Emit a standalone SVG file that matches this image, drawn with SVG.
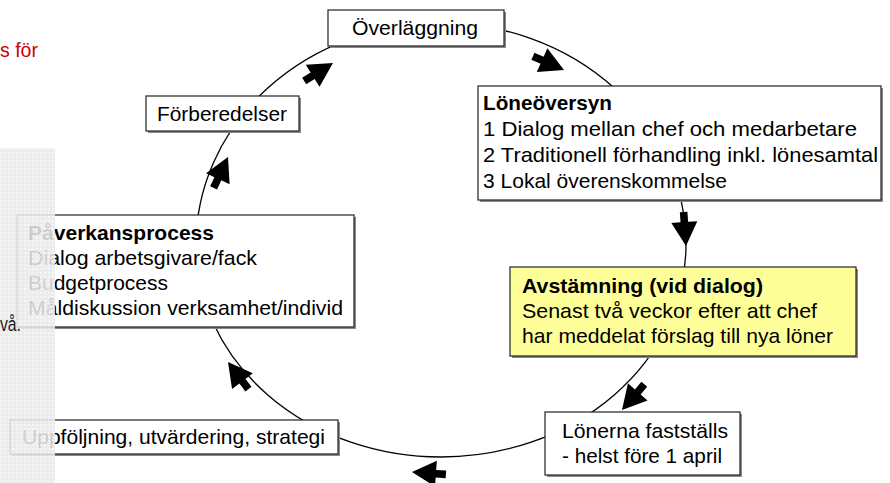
<svg xmlns="http://www.w3.org/2000/svg" width="890" height="483" viewBox="0 0 890 483">
<defs>
<style>
.box{fill:#ffffff;stroke:#222222;stroke-width:1.2}
.shd{fill:#8a8a8a}
.t{font-family:"Liberation Sans",Arial,sans-serif;font-size:21px;fill:#000}
.b{font-weight:bold}
.arc{fill:none;stroke:#000;stroke-width:1.3}
.arw{fill:#000}
</style>
<path id="arw" d="M0,0 L-24,-13 L-24,-3.8 L-34,-3.8 L-34,3.8 L-24,3.8 L-24,13 Z"/>
<pattern id="chk" width="4" height="4" patternUnits="userSpaceOnUse">
<rect width="4" height="4" fill="#e9e9e9"/>
<rect width="2" height="2" fill="#f3f3f3"/>
</pattern>
</defs>
<rect width="890" height="483" fill="#ffffff"/>
<text class="t" x="0" y="57" textLength="38" lengthAdjust="spacingAndGlyphs" style="fill:#cc0000;font-size:20px">s för</text>
<g id="connectors">
<path class="arc" d="M196,245 A245,222 0 0 1 686,245 A245,212 0 0 1 196,245 Z"/>
<use href="#arw" class="arw" transform="translate(333,63) rotate(-32)"/>
<use href="#arw" class="arw" transform="translate(564,70) rotate(24)"/>
<use href="#arw" class="arw" transform="translate(686,246) rotate(86)"/>
<use href="#arw" class="arw" transform="translate(622,410) rotate(131)"/>
<use href="#arw" class="arw" transform="translate(412,472) rotate(184)"/>
<use href="#arw" class="arw" transform="translate(228,362) rotate(233)"/>
<use href="#arw" class="arw" transform="translate(228,157) rotate(-65)"/>
</g>
<g id="overlaggning">
<rect class="shd" x="330" y="12" width="176" height="36"/>
<rect class="box" x="328" y="10" width="176" height="36"/>
<text class="t" x="352" y="35" textLength="126" lengthAdjust="spacingAndGlyphs">Överläggning</text>
</g>
<g id="forberedelser">
<rect class="shd" x="148" y="98" width="153" height="35"/>
<rect class="box" x="146" y="96" width="153" height="35"/>
<text class="t" x="157" y="121" textLength="130" lengthAdjust="spacingAndGlyphs">Förberedelser</text>
</g>
<g id="loneoversyn">
<rect class="shd" x="480" y="88" width="403" height="114"/>
<rect class="box" x="478" y="86" width="403" height="114"/>
<text class="t b" x="483" y="110" textLength="129" lengthAdjust="spacingAndGlyphs">Löneöversyn</text>
<text class="t" x="483" y="136" textLength="374" lengthAdjust="spacingAndGlyphs">1 Dialog mellan chef och medarbetare</text>
<text class="t" x="483" y="162" textLength="395" lengthAdjust="spacingAndGlyphs">2 Traditionell förhandling inkl. lönesamtal</text>
<text class="t" x="483" y="188" textLength="244" lengthAdjust="spacingAndGlyphs">3 Lokal överenskommelse</text>
</g>
<g id="avstamning">
<rect class="shd" x="512" y="269" width="346" height="89"/>
<rect class="box" x="510" y="267" width="346" height="89" style="fill:#ffff99"/>
<text class="t b" x="522" y="293" textLength="241" lengthAdjust="spacingAndGlyphs">Avstämning (vid dialog)</text>
<text class="t" x="522" y="318" textLength="295" lengthAdjust="spacingAndGlyphs">Senast två veckor efter att chef</text>
<text class="t" x="522" y="343" textLength="311" lengthAdjust="spacingAndGlyphs">har meddelat förslag till nya löner</text>
</g>
<g id="lonerna">
<rect class="shd" x="547" y="414" width="195" height="63"/>
<rect class="box" x="545" y="412" width="195" height="63"/>
<text class="t" x="562" y="438" textLength="166" lengthAdjust="spacingAndGlyphs">Lönerna fastställs</text>
<text class="t" x="562" y="463" textLength="160" lengthAdjust="spacingAndGlyphs">- helst före 1 april</text>
</g>
<g id="uppfoljning">
<rect class="shd" x="12" y="422" width="328" height="34"/>
<rect class="box" x="10" y="420" width="328" height="34"/>
<text class="t" x="22" y="444" textLength="303" lengthAdjust="spacingAndGlyphs">Uppföljning, utvärdering, strategi</text>
</g>
<g id="paverkan">
<rect class="shd" x="19" y="217" width="337" height="112"/>
<rect class="box" x="17" y="215" width="337" height="112"/>
<text class="t b" x="28" y="240" textLength="186" lengthAdjust="spacingAndGlyphs">Påverkansprocess</text>
<text class="t" x="28" y="265" textLength="229" lengthAdjust="spacingAndGlyphs">Dialog arbetsgivare/fack</text>
<text class="t" x="28" y="290" textLength="140" lengthAdjust="spacingAndGlyphs">Budgetprocess</text>
<text class="t" x="28" y="315" textLength="315" lengthAdjust="spacingAndGlyphs">Måldiskussion verksamhet/individ</text>
</g>
<rect x="0" y="148" width="55" height="335" fill="url(#chk)" fill-opacity="0.87"/>
<text class="t" x="0" y="331" textLength="21" lengthAdjust="spacingAndGlyphs" style="fill:#222;font-size:20px">vå.</text>
</svg>
